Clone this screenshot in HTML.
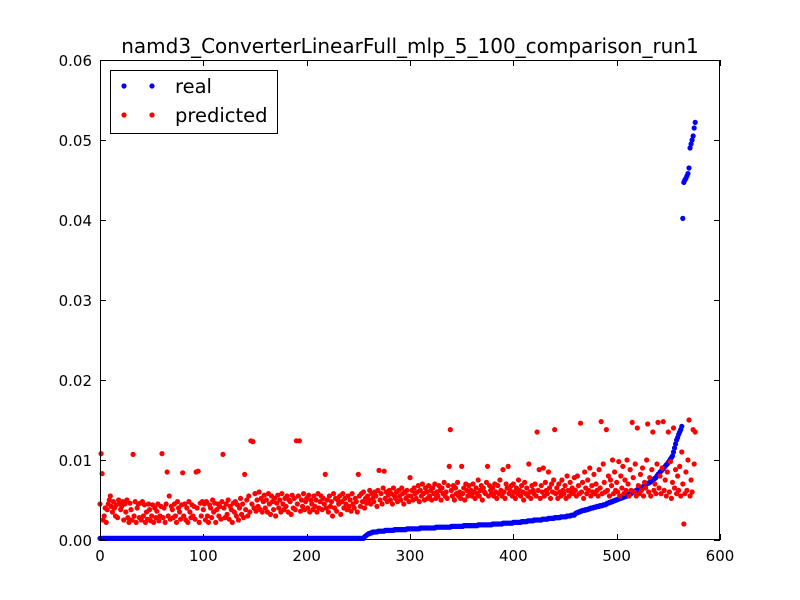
<!DOCTYPE html>
<html><head><meta charset="utf-8"><style>
html,body{margin:0;padding:0;background:#fff}
svg{display:block;font-family:"DejaVu Sans","Liberation Sans",sans-serif}
</style></head><body>
<svg id="chart" width="800" height="600" viewBox="0 0 800 600">
<rect x="0" y="0" width="800" height="600" fill="#fff"/>
<text x="410" y="53" text-anchor="middle" font-size="20">namd3_ConverterLinearFull_mlp_5_100_comparison_run1</text>
<g id="points"></g>
<g id="axes"></g>
<g>
<rect x="110.5" y="70.5" width="167" height="63" fill="#fff" stroke="#000" stroke-width="1"/>
<g>
<circle cx="124" cy="86" r="2.6" fill="#0000ff"/><circle cx="152" cy="86" r="2.6" fill="#0000ff"/>
<text x="175" y="93" font-size="19.5">real</text></g>
<g>
<circle cx="124" cy="115" r="2.6" fill="#ff0000"/><circle cx="152" cy="115" r="2.6" fill="#ff0000"/>
<text x="175" y="122" font-size="19.5">predicted</text></g>
</g>
</svg>
<script>
const xTicks=[0,100,200,300,400,500,600];
const yTicks=[0,0.01,0.02,0.03,0.04,0.05,0.06];
const yTickLabels=["0.00","0.01","0.02","0.03","0.04","0.05","0.06"];
// values in units of 1e-4
const realValues=[
2,2,2,2,2,2,2,2,2,2,2,2,2,2,2,2,2,2,2,2,2,2,2,2,2,2,2,2,2,2,2,2,
2,2,2,2,2,2,2,2,2,2,2,2,2,2,2,2,2,2,2,2,2,2,2,2,2,2,2,2,2,2,2,2,
2,2,2,2,2,2,2,2,2,2,2,2,2,2,2,2,2,2,2,2,2,2,2,2,2,2,2,2,2,2,2,2,
2,2,2,2,2,2,2,2,2,2,2,2,2,2,2,2,2,2,2,2,2,2,2,2,2,2,2,2,2,2,2,2,
2,2,2,2,2,2,2,2,2,2,2,2,2,2,2,2,2,2,2,2,2,2,2,2,2,2,2,2,2,2,2,2,
2,2,2,2,2,2,2,2,2,2,2,2,2,2,2,2,2,2,2,2,2,2,2,2,2,2,2,2,2,2,2,2,
2,2,2,2,2,2,2,2,2,2,2,2,2,2,2,2,2,2,2,2,2,2,2,2,2,2,2,2,2,2,2,2,
2,2,2,2,2,2,2,2,2,2,2,2,2,2,2,2,2,2,2,2,2,2,2,2,2,2,2,2,2,2,2,2,
4,5,6,7,8,8,9,9,10,
10,10,10,10,11,11,11,11,11,11,11,12,12,12,12,12,12,12,12,12,13,13,13,13,13,13,13,13,13,13,13,13,14,14,14,
14,14,14,14,14,14,14,14,14,14,15,15,15,15,15,15,15,15,15,15,15,15,15,15,15,16,16,16,16,16,16,16,16,16,16,16,16,16,16,16,
17,17,17,17,17,17,17,17,17,17,17,17,18,18,18,18,18,18,18,18,18,18,18,18,18,18,19,19,19,19,19,19,19,19,19,19,19,19,19,19,
20,20,20,20,20,20,20,20,20,20,21,21,21,21,21,21,21,21,21,21,22,22,22,22,22,22,22,22,23,23,23,23,23,23,24,24,24,24,24,24,
25,25,25,25,25,25,25,25,26,26,26,26,26,26,27,27,27,27,27,27,28,28,28,28,28,28,29,29,29,29,29,29,30,30,30,30,31,31,31,31,
33,34,34,35,35,36,36,37,37,37,38,38,38,39,39,40,40,40,41,41,41,42,42,42,43,43,43,44,44,44,
45,46,46,47,47,48,48,49,49,50,50,51,51,52,52,53,53,54,54,55,55,56,57,58,58,59,60,61,61,62,
63,63,64,65,66,66,67,68,69,70,71,71,72,73,74,75,76,77,78,80,
82,83,85,86,88,89,91,92,94,95,97,99,101,103,105,
110,115,120,125,128,132,135,138,142,
402,
447,450,452,455,458,465,490,495,500,505,515,522];
const predictedValues=[
45,108,83,25,30,40,22,38,45,50,55,42,35,48,40,30,44,28,50,46,
38,42,48,25,45,35,50,28,22,46,38,25,107,30,48,22,40,45,28,46,
25,48,30,44,22,35,26,45,38,24,30,44,22,40,28,36,45,24,30,42,
108,28,40,22,45,85,30,55,26,42,38,28,45,30,22,48,40,35,26,44,
84,30,45,25,40,22,48,35,28,44,30,42,26,85,40,86,22,46,30,48,
38,45,25,48,30,22,44,40,28,50,35,46,22,38,45,30,42,26,48,107,
40,28,45,32,50,26,42,38,22,46,35,48,30,44,25,40,52,32,45,28,
82,38,50,30,55,35,124,45,123,40,58,36,50,42,60,38,52,35,48,56,
40,50,35,58,45,32,55,48,38,52,30,46,56,40,50,35,58,45,38,52,
42,55,35,50,48,32,56,40,52,38,124,45,55,124,36,50,42,58,38,48,
52,40,56,35,50,45,38,55,42,50,35,58,40,48,55,38,52,45,82,40,
50,35,55,42,48,30,58,40,52,36,50,45,55,32,48,58,40,52,45,38,
55,42,50,36,58,45,40,52,48,35,82,55,42,58,48,60,40,52,46,55,
50,62,45,58,52,48,60,55,42,62,87,50,58,45,65,86,52,60,48,56,
62,50,58,45,65,55,52,60,48,62,55,50,65,58,45,60,52,62,55,48,
78,55,62,50,65,58,52,60,68,48,62,55,70,58,50,65,60,52,68,55,
62,50,65,58,70,52,60,55,68,62,50,65,58,72,55,60,52,68,92,138,
62,55,68,50,65,58,72,55,60,52,92,58,65,50,70,62,55,68,58,62,
55,70,60,52,65,58,75,55,62,68,50,65,60,58,72,92,55,68,62,58,
65,55,70,60,52,68,58,75,62,55,88,60,52,70,65,92,58,62,68,55,
70,60,52,65,58,75,62,55,68,60,50,72,58,65,55,95,60,52,68,62,
58,70,55,135,62,88,52,68,60,90,55,72,62,58,85,65,52,70,60,75,
138,58,65,52,70,60,55,75,62,58,68,52,80,62,55,72,60,65,58,78,
62,55,80,68,58,146,60,72,52,85,65,58,75,62,90,55,68,60,82,58,
70,62,55,88,65,148,58,95,72,60,138,62,80,55,75,68,100,58,85,62,
72,60,98,55,80,65,92,58,75,62,100,70,55,88,62,147,78,60,95,55,
140,68,58,82,62,90,55,72,65,100,145,60,78,55,88,135,62,70,58,95,
147,65,80,58,90,148,62,75,55,85,135,60,98,52,72,140,65,88,58,80,
62,92,55,110,70,20,58,85,62,100,150,55,75,60,138,95,135];
const UNIT=1e-4;
const L=100,R=720,T=60,B=540,XMIN=0,XMAX=600,YMIN=0,YMAX=0.06;
const NS="http://www.w3.org/2000/svg";
function xScale(v){return L+(v-XMIN)/(XMAX-XMIN)*(R-L);}
function yScale(v){return B-(v-YMIN)/(YMAX-YMIN)*(B-T);}
function mk(tag,attrs,parent){const e=document.createElementNS(NS,tag);for(const k in attrs)e.setAttribute(k,attrs[k]);parent.appendChild(e);return e;}
const pts=document.getElementById('points');
const gReal=mk('g',{},pts);


const gPred=mk('g',{},pts);


realValues.forEach((v,i)=>{
  const c=mk('circle',{cx:xScale(i),cy:yScale(v*UNIT),r:2.6,fill:'#0000ff'},gReal);
  
  
});
predictedValues.forEach((v,i)=>{
  const c=mk('circle',{cx:xScale(i),cy:yScale(v*UNIT),r:2.6,fill:'#ff0000'},gPred);
  
  
});
const ax=document.getElementById('axes');
const frame=mk('rect',{x:L+0.5,y:T+0.5,width:R-L-1,height:B-T-1,fill:'none',stroke:'#000','stroke-width':1},ax);


xTicks.forEach(t=>{
  const x=Math.round(xScale(t))+0.5;
  mk('line',{x1:x,y1:B,x2:x,y2:B-6,stroke:'#000'},ax);
  mk('line',{x1:x,y1:T,x2:x,y2:T+6,stroke:'#000'},ax);
  const tx=mk('text',{x:xScale(t),y:B+21,'text-anchor':'middle','font-size':15},ax);
  tx.textContent=String(t);
  
  
});
yTicks.forEach((t,i)=>{
  const y=Math.round(yScale(t))+0.5;
  mk('line',{x1:L,y1:y,x2:L+6,y2:y,stroke:'#000'},ax);
  mk('line',{x1:R,y1:y,x2:R-6,y2:y,stroke:'#000'},ax);
  const tx=mk('text',{x:L-8,y:yScale(t)+6,'text-anchor':'end','font-size':15},ax);
  tx.textContent=yTickLabels[i];
  
  
});
</script>
</body></html>
